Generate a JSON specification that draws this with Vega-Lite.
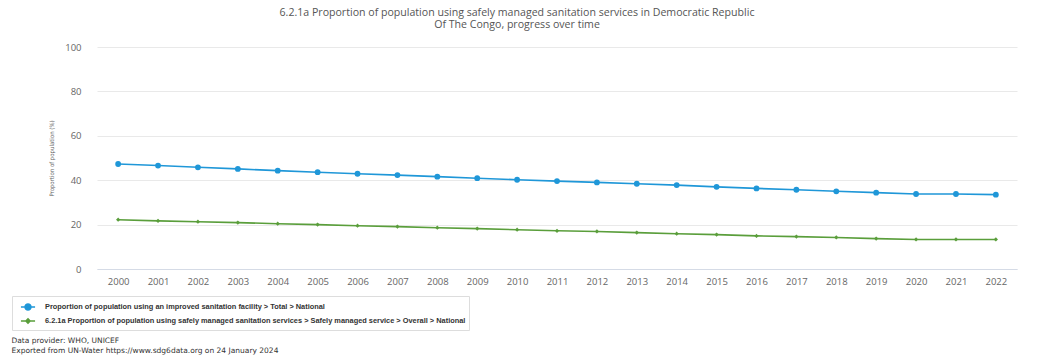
{
  "$schema": "https://vega.github.io/schema/vega-lite/v6.json",
  "autosize": {"type": "none"},
  "width": 920,
  "height": 222,
  "padding": {"left": 97, "top": 47, "right": 26, "bottom": 89},
  "background": "white",
  "title": {
    "text": ["6.2.1a Proportion of population using safely managed sanitation services in Democratic Republic", "Of The Congo, progress over time"],
    "anchor": "middle",
    "frame": "group",
    "dx": -40,
    "offset": 11,
    "fontSize": 10.6,
    "fontWeight": "normal",
    "font": "Open Sans",
    "color": "#555555",
    "lineHeight": 12
  },
  "data": {
    "values": [
      {"year": "2000", "series": "Proportion of population using an improved sanitation facility > Total > National", "value": 47.3},
      {"year": "2001", "series": "Proportion of population using an improved sanitation facility > Total > National", "value": 46.6},
      {"year": "2002", "series": "Proportion of population using an improved sanitation facility > Total > National", "value": 45.8},
      {"year": "2003", "series": "Proportion of population using an improved sanitation facility > Total > National", "value": 45.1},
      {"year": "2004", "series": "Proportion of population using an improved sanitation facility > Total > National", "value": 44.3},
      {"year": "2005", "series": "Proportion of population using an improved sanitation facility > Total > National", "value": 43.6},
      {"year": "2006", "series": "Proportion of population using an improved sanitation facility > Total > National", "value": 42.9},
      {"year": "2007", "series": "Proportion of population using an improved sanitation facility > Total > National", "value": 42.3},
      {"year": "2008", "series": "Proportion of population using an improved sanitation facility > Total > National", "value": 41.6},
      {"year": "2009", "series": "Proportion of population using an improved sanitation facility > Total > National", "value": 40.9},
      {"year": "2010", "series": "Proportion of population using an improved sanitation facility > Total > National", "value": 40.2},
      {"year": "2011", "series": "Proportion of population using an improved sanitation facility > Total > National", "value": 39.6},
      {"year": "2012", "series": "Proportion of population using an improved sanitation facility > Total > National", "value": 39.0},
      {"year": "2013", "series": "Proportion of population using an improved sanitation facility > Total > National", "value": 38.4},
      {"year": "2014", "series": "Proportion of population using an improved sanitation facility > Total > National", "value": 37.8},
      {"year": "2015", "series": "Proportion of population using an improved sanitation facility > Total > National", "value": 37.0},
      {"year": "2016", "series": "Proportion of population using an improved sanitation facility > Total > National", "value": 36.3},
      {"year": "2017", "series": "Proportion of population using an improved sanitation facility > Total > National", "value": 35.7},
      {"year": "2018", "series": "Proportion of population using an improved sanitation facility > Total > National", "value": 35.0},
      {"year": "2019", "series": "Proportion of population using an improved sanitation facility > Total > National", "value": 34.4},
      {"year": "2020", "series": "Proportion of population using an improved sanitation facility > Total > National", "value": 33.8},
      {"year": "2021", "series": "Proportion of population using an improved sanitation facility > Total > National", "value": 33.8},
      {"year": "2022", "series": "Proportion of population using an improved sanitation facility > Total > National", "value": 33.5},
      {"year": "2000", "series": "6.2.1a Proportion of population using safely managed sanitation services > Safely managed service > Overall > National", "value": 22.2},
      {"year": "2001", "series": "6.2.1a Proportion of population using safely managed sanitation services > Safely managed service > Overall > National", "value": 21.7},
      {"year": "2002", "series": "6.2.1a Proportion of population using safely managed sanitation services > Safely managed service > Overall > National", "value": 21.3},
      {"year": "2003", "series": "6.2.1a Proportion of population using safely managed sanitation services > Safely managed service > Overall > National", "value": 20.9},
      {"year": "2004", "series": "6.2.1a Proportion of population using safely managed sanitation services > Safely managed service > Overall > National", "value": 20.4},
      {"year": "2005", "series": "6.2.1a Proportion of population using safely managed sanitation services > Safely managed service > Overall > National", "value": 20.0},
      {"year": "2006", "series": "6.2.1a Proportion of population using safely managed sanitation services > Safely managed service > Overall > National", "value": 19.5},
      {"year": "2007", "series": "6.2.1a Proportion of population using safely managed sanitation services > Safely managed service > Overall > National", "value": 19.1},
      {"year": "2008", "series": "6.2.1a Proportion of population using safely managed sanitation services > Safely managed service > Overall > National", "value": 18.6},
      {"year": "2009", "series": "6.2.1a Proportion of population using safely managed sanitation services > Safely managed service > Overall > National", "value": 18.2},
      {"year": "2010", "series": "6.2.1a Proportion of population using safely managed sanitation services > Safely managed service > Overall > National", "value": 17.7},
      {"year": "2011", "series": "6.2.1a Proportion of population using safely managed sanitation services > Safely managed service > Overall > National", "value": 17.2},
      {"year": "2012", "series": "6.2.1a Proportion of population using safely managed sanitation services > Safely managed service > Overall > National", "value": 16.9},
      {"year": "2013", "series": "6.2.1a Proportion of population using safely managed sanitation services > Safely managed service > Overall > National", "value": 16.4},
      {"year": "2014", "series": "6.2.1a Proportion of population using safely managed sanitation services > Safely managed service > Overall > National", "value": 15.9},
      {"year": "2015", "series": "6.2.1a Proportion of population using safely managed sanitation services > Safely managed service > Overall > National", "value": 15.5},
      {"year": "2016", "series": "6.2.1a Proportion of population using safely managed sanitation services > Safely managed service > Overall > National", "value": 14.9},
      {"year": "2017", "series": "6.2.1a Proportion of population using safely managed sanitation services > Safely managed service > Overall > National", "value": 14.6},
      {"year": "2018", "series": "6.2.1a Proportion of population using safely managed sanitation services > Safely managed service > Overall > National", "value": 14.2},
      {"year": "2019", "series": "6.2.1a Proportion of population using safely managed sanitation services > Safely managed service > Overall > National", "value": 13.7},
      {"year": "2020", "series": "6.2.1a Proportion of population using safely managed sanitation services > Safely managed service > Overall > National", "value": 13.3},
      {"year": "2021", "series": "6.2.1a Proportion of population using safely managed sanitation services > Safely managed service > Overall > National", "value": 13.3},
      {"year": "2022", "series": "6.2.1a Proportion of population using safely managed sanitation services > Safely managed service > Overall > National", "value": 13.3}
    ]
  },
  "encoding": {
    "x": {
      "field": "year",
      "type": "ordinal",
      "scale": {"type": "point", "padding": 0.53},
      "axis": {
        "labelAngle": 0,
        "ticks": false,
        "domain": true,
        "domainColor": "#d5dbe6",
        "domainWidth": 1,
        "labelPadding": 7,
        "labelFont": "Open Sans",
        "labelFontSize": 9.5,
        "labelColor": "#666666",
        "grid": false,
        "title": ["Data provider: WHO, UNICEF", "Exported from UN-Water https://www.sdg6data.org on 24 January 2024"],
        "titleAnchor": "start",
        "titleAlign": "left",
        "titleBaseline": "top",
        "titleX": -86,
        "titleY": 67,
        "titleFont": "DejaVu Sans",
        "titleFontSize": 7.5,
        "titleFontWeight": "normal",
        "titleColor": "#333333",
        "titleLineHeight": 10
      }
    },
    "y": {
      "field": "value",
      "type": "quantitative",
      "scale": {"domain": [0, 100], "nice": false},
      "axis": {
        "values": [0, 20, 40, 60, 80, 100],
        "ticks": false,
        "domain": false,
        "grid": true,
        "gridColor": "#e9e9e9",
        "gridWidth": 1,
        "labelPadding": 16,
        "labelFont": "Open Sans",
        "labelFontSize": 9.5,
        "labelColor": "#666666",
        "title": "Proportion of population (%)",
        "titleFont": "Liberation Sans Narrow, DejaVu Sans Condensed, sans-serif",
        "titleFontSize": 6,
        "titleFontWeight": "normal",
        "titleColor": "#666666",
        "titlePadding": 10
      }
    },
    "color": {
      "field": "series",
      "type": "nominal",
      "scale": {
        "domain": ["Proportion of population using an improved sanitation facility > Total > National", "6.2.1a Proportion of population using safely managed sanitation services > Safely managed service > Overall > National"],
        "range": ["#1f97d8", "#5a9e3b"]
      },
      "legend": {
        "orient": "none",
        "legendX": -85,
        "legendY": 249,
        "direction": "vertical",
        "title": null,
        "strokeColor": "#dddddd",
        "padding": 3,
        "rowPadding": 0,
        "labelFont": "Liberation Sans",
        "labelFontSize": 7.4,
        "labelFontWeight": "bold",
        "labelColor": "#333333",
        "labelLimit": 0,
        "symbolType": "M-1,0H1M-0.4,0A0.4,0.4,0,1,0,0.4,0A0.4,0.4,0,1,0,-0.4,0Z",
        "symbolSize": 200,
        "symbolStrokeWidth": 1.5,
        "symbolOffset": 5,
        "labelOffset": 9,
        "encode": {
          "symbols": {
            "update": {
              "shape": {"signal": "indexof(datum.value, 'improved') >= 0 ? 'M-1,0H1M-0.42,0A0.42,0.42,0,1,0,0.42,0A0.42,0.42,0,1,0,-0.42,0Z' : 'M-1,0H1M0,-0.3L0.3,0L0,0.3L-0.3,0Z'"},
              "fill": {"signal": "indexof(datum.value, 'improved') >= 0 ? '#1f97d8' : '#5a9e3b'"},
              "stroke": {"signal": "indexof(datum.value, 'improved') >= 0 ? '#1f97d8' : '#5a9e3b'"},
              "opacity": {"value": 1}
            }
          }
        }
      }
    }
  },
  "layer": [
    {"mark": {"type": "line", "strokeWidth": 1.6}},
    {
      "transform": [{"filter": "indexof(datum.series, 'improved') >= 0"}],
      "mark": {"type": "point", "shape": "circle", "filled": true, "opacity": 1, "size": 34}
    },
    {
      "transform": [{"filter": "indexof(datum.series, 'improved') < 0"}],
      "mark": {"type": "point", "shape": "diamond", "filled": true, "opacity": 1, "size": 18}
    }
  ],
  "config": {"view": {"stroke": null}}
}
